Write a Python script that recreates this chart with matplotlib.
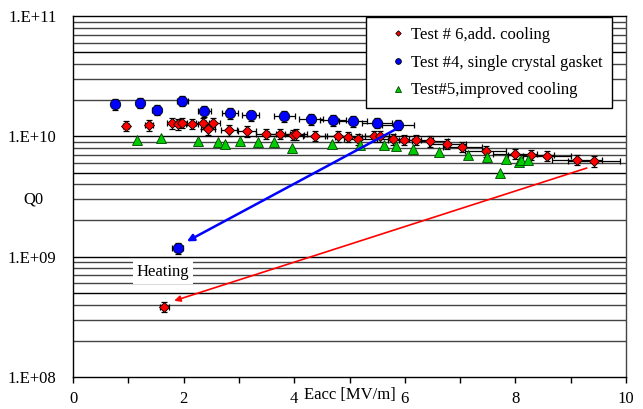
import matplotlib
matplotlib.use("Agg")
import matplotlib.pyplot as plt
import numpy as np
from matplotlib.ticker import FixedLocator, NullFormatter, FixedFormatter

plt.rcParams['font.family'] = ['Liberation Serif', 'DejaVu Serif']

# ---- data (Eacc in MV/m, Q0) ----
t6_eacc = [0.96, 1.38, 1.79, 1.89, 1.97, 2.15, 2.35, 2.44, 2.53, 2.82, 3.15, 3.49, 3.74,
           3.98, 4.03, 4.38, 4.79, 4.98, 5.16, 5.45, 5.55, 5.78, 5.99, 6.20, 6.46, 6.77,
           7.04, 7.46, 7.99, 8.28, 8.57, 9.11, 9.42, 1.65]
t6_q0 = [1.23e10, 1.24e10, 1.28e10, 1.26e10, 1.30e10, 1.27e10, 1.28e10, 1.15e10, 1.28e10,
         1.12e10, 1.10e10, 1.05e10, 1.05e10, 1.03e10, 1.04e10, 1.01e10, 1.00e10, 0.99e10,
         9.5e9, 1.0e10, 1.0e10, 9.5e9, 9.4e9, 9.4e9, 9.1e9, 8.7e9, 8.2e9, 7.5e9, 7.2e9,
         7.0e9, 6.9e9, 6.4e9, 6.2e9, 3.83e8]

t4_eacc = [0.76, 1.21, 1.51, 1.98, 2.37, 2.84, 3.21, 3.82, 4.30, 4.71, 5.07, 5.50, 5.88, 1.89]
t4_q0 = [1.84e10, 1.91e10, 1.67e10, 1.97e10, 1.62e10, 1.55e10, 1.49e10, 1.47e10, 1.39e10,
         1.36e10, 1.33e10, 1.30e10, 1.25e10, 1.17e9]

t5_eacc = [1.15, 1.60, 2.26, 2.62, 2.75, 3.02, 3.35, 3.64, 3.96, 4.68, 5.19, 5.62, 5.84,
           6.14, 6.62, 7.14, 7.49, 7.72, 7.83, 8.07, 8.10, 8.22]
t5_q0 = [9.4e9, 9.75e9, 9.2e9, 8.97e9, 8.7e9, 9.1e9, 9.0e9, 8.97e9, 8.0e9, 8.7e9, 8.5e9,
         8.5e9, 8.3e9, 7.8e9, 7.4e9, 6.95e9, 6.7e9, 4.98e9, 6.47e9, 6.1e9, 6.4e9, 6.3e9]

eacc_rel_err = 0.05
q0_rel_err = 0.10

labels = ["Test # 6,add. cooling", "Test #4, single crystal gasket", "Test#5,improved cooling"]

blue_arrow = [(5.86, 1.16e10), (2.06, 1.34e9)]
red_arrow = [(9.29, 5.45e9), (1.83, 4.3e8)]
heating_pos = (1.63, 7.4e8)

y_ticks = [1e8, 1e9, 1e10, 1e11]
y_ticklabels = ["1.E+08", "1.E+09", "1.E+10", "1.E+11"]
x_ticks = [0, 2, 4, 6, 8, 10]

# ---- figure ----
fig = plt.figure(figsize=(6.43, 4.09), dpi=100)
ax = fig.add_axes([73/643, 1-377/409, (626-73)/643, (377-16)/409])
ax.set_yscale('log')
ax.set_xlim(0, 10)
ax.set_ylim(1e8, 1e11)

# horizontal gridlines
for dec in [1e8, 1e9, 1e10]:
    for m in range(1, 10):
        v = dec * m
        if v <= 1e8 or v >= 1e11:
            continue
        ax.axhline(v, color='black' if m in (1, 5) else '#444444', lw=1.0, zorder=0.5)

def series(xs, ys, err, **kw):
    xs = np.array(xs); ys = np.array(ys)
    if err:
        ax.errorbar(xs, ys, xerr=xs*eacc_rel_err, yerr=ys*q0_rel_err, fmt='none',
                    ecolor='black', elinewidth=0.9, capsize=2.5, capthick=0.9, zorder=2)
    return ax.plot(xs, ys, linestyle='none', zorder=3, **kw)[0]

h6 = series(t6_eacc, t6_q0, True, marker='D', markersize=5, markerfacecolor='red',
            markeredgecolor='black', markeredgewidth=0.6)
h4 = series(t4_eacc, t4_q0, True, marker='o', markersize=7.5, markerfacecolor='#0000ff',
            markeredgecolor='black', markeredgewidth=0.6)
h5 = series(t5_eacc, t5_q0, False, marker='^', markersize=7, markerfacecolor='#00cc00',
            markeredgecolor='#004400', markeredgewidth=0.6)

ax.annotate('', xy=blue_arrow[1], xytext=blue_arrow[0],
            arrowprops=dict(arrowstyle='-|>', color='#0000ff', lw=1.8, mutation_scale=10,
                            shrinkA=0, shrinkB=0), zorder=4)
ax.annotate('', xy=red_arrow[1], xytext=red_arrow[0],
            arrowprops=dict(arrowstyle='-|>', color='red', lw=1.2, mutation_scale=9,
                            shrinkA=0, shrinkB=0), zorder=4)
ax.text(heating_pos[0], heating_pos[1], "Heating", fontsize=12, ha='center', va='center',
        bbox=dict(facecolor='white', edgecolor='none', pad=2.5), zorder=4)

# axes
ax.yaxis.set_major_locator(FixedLocator(y_ticks))
ax.yaxis.set_major_formatter(FixedFormatter(y_ticklabels))
ax.yaxis.set_minor_locator(FixedLocator([]))
ax.yaxis.set_minor_formatter(NullFormatter())
ax.tick_params(axis='y', which='both', length=0, labelsize=12, pad=12)
ax.xaxis.set_major_locator(FixedLocator(x_ticks))
ax.xaxis.set_minor_locator(FixedLocator([1, 3, 5, 7, 9]))
ax.tick_params(axis='x', which='both', direction='out', length=4, width=1, labelsize=12, pad=6)
for s in ax.spines.values():
    s.set_linewidth(1.0)
ax.spines['right'].set_color('#444444')

ax.text(5, -10/361, "Eacc [MV/m]", transform=ax.get_xaxis_transform(), ha='center',
        va='top', fontsize=12)
fig.text(23/643, 1-200/409, "Q0", fontsize=12, ha='left', va='center')

leg = ax.legend([h6, h4, h5], labels, loc='upper right', bbox_to_anchor=(0.975, 0.997),
                fontsize=12, frameon=True, fancybox=False, edgecolor='black',
                framealpha=1, markerscale=0.55, handlelength=2.6, handletextpad=-0.55,
                labelspacing=0.7, borderpad=0.6, borderaxespad=0)
leg.get_frame().set_linewidth(1.0)
leg.set_zorder(5)

fig.savefig("out.png", dpi=100)
